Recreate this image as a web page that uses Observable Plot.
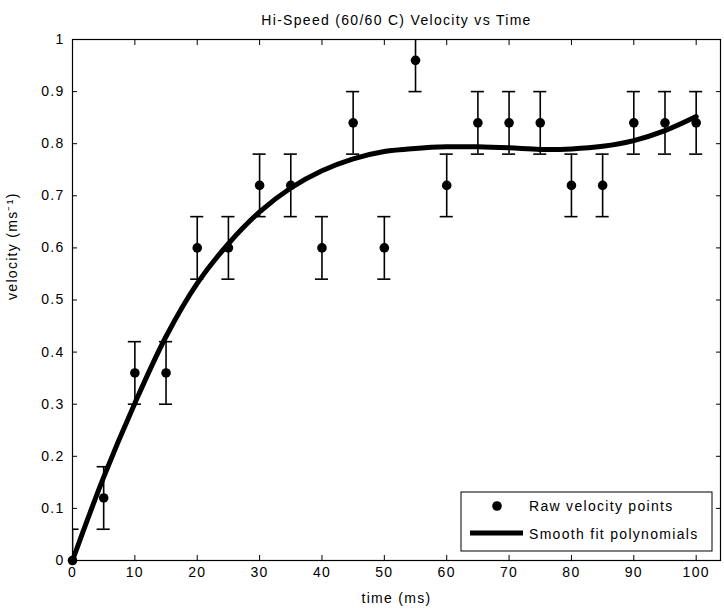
<!DOCTYPE html>
<html>
<head>
<meta charset="utf-8">
<script src="https://cdn.jsdelivr.net/npm/d3@7"></script>
<script src="https://cdn.jsdelivr.net/npm/@observablehq/plot@0.6"></script>
<style>
  html, body { margin: 0; padding: 0; background: #fff; }
  svg { display: block; }
  svg text { letter-spacing: 1.3px; }
</style>
</head>
<body>
<div id="chart"></div>
<script>
// Raw data points
const time = [0, 5, 10, 15, 20, 25, 30, 35, 40, 45, 50, 55, 60, 65, 70, 75, 80, 85, 90, 95, 100];
const velocity = [0, 0.12, 0.36, 0.36, 0.60, 0.60, 0.72, 0.72, 0.60, 0.84, 0.60, 0.96, 0.72, 0.84, 0.84, 0.84, 0.72, 0.72, 0.84, 0.84, 0.84];
const errorHalf = 0.06;

// Smooth fit polynomial
const fitTime = [0, 5, 10, 15, 20, 25, 30, 35, 40, 45, 50, 55, 60, 65, 70, 75, 80, 85, 90, 95, 100];
const fitVel = [0, 0.160, 0.302, 0.430, 0.532, 0.608, 0.669, 0.715, 0.748, 0.771, 0.785, 0.791, 0.794, 0.794, 0.792, 0.789, 0.790, 0.795, 0.806, 0.825, 0.852];

const xTicks = [0, 10, 20, 30, 40, 50, 60, 70, 80, 90, 100];
const yTicks = [0, 0.1, 0.2, 0.3, 0.4, 0.5, 0.6, 0.7, 0.8, 0.9, 1];

const titleText = "Hi-Speed (60/60 C) Velocity vs Time";
const xLabel = "time (ms)";
const yLabel = "velocity (ms⁻¹)";
const legendLabels = ["Raw velocity points", "Smooth fit polynomials"];

const raw = time.map((t, i) => ({t, v: velocity[i]}));
const fit = fitTime.map((t, i) => ({t, v: fitVel[i]}));
const capHalf = 1.05;

const W = 724, H = 611;
const mL = 72, mR = 4, mT = 39, mB = 51;
const font = "'Liberation Sans', Arial, sans-serif";
const fs = 14;

const plot = Plot.plot({
  width: W,
  height: H,
  marginLeft: mL,
  marginRight: mR,
  marginTop: mT,
  marginBottom: mB,
  style: {fontFamily: font, fontSize: fs + "px", color: "#000", background: "#fff"},
  x: {domain: [0, 103.9], label: null},
  y: {domain: [0, 1], label: null},
  marks: [
    Plot.axisX({ticks: xTicks, tickSize: -5, tickPadding: 12, tickFormat: d => String(d), fontSize: fs, strokeWidth: 1}),
    Plot.axisX({ticks: xTicks, anchor: "top", tickSize: -5, tickFormat: null, text: null, label: null}),
    Plot.axisY({ticks: yTicks, tickSize: -5, tickPadding: 13, tickFormat: d => String(+d.toFixed(1)), fontSize: fs}),
    Plot.axisY({ticks: yTicks, anchor: "right", tickSize: -5, text: null, label: null}),
    // error bars
    Plot.ruleX(raw, {x: "t", y1: d => d.v - errorHalf, y2: d => d.v + errorHalf, stroke: "#000", strokeWidth: 1.6, clip: "frame"}),
    Plot.ruleY(raw, {y: d => d.v - errorHalf, x1: d => d.t - capHalf, x2: d => d.t + capHalf, stroke: "#000", strokeWidth: 1.6, clip: "frame"}),
    Plot.ruleY(raw, {y: d => d.v + errorHalf, x1: d => d.t - capHalf, x2: d => d.t + capHalf, stroke: "#000", strokeWidth: 1.6, clip: "frame"}),
    // fit line
    Plot.line(fit, {x: "t", y: "v", curve: "catmull-rom", stroke: "#000", strokeWidth: 5}),
    // raw points
    Plot.dot(raw, {x: "t", y: "v", r: 4.8, fill: "#000", stroke: "none"}),
    Plot.frame({stroke: "#000", strokeWidth: 1.2}),
    // title and axis labels
    Plot.text([titleText], {frameAnchor: "top", dy: -24, text: d => d, fontSize: fs, fill: "#000"}),
    Plot.text([xLabel], {frameAnchor: "bottom", dy: 42, text: d => d, fontSize: fs, fill: "#000"}),
    Plot.text([yLabel], {frameAnchor: "left", dx: -60, rotate: -90, text: d => d, fontSize: fs, fill: "#000"})
  ]
});

document.getElementById("chart").appendChild(plot);

// Legend box (drawn in the plot's SVG)
const svg = d3.select(plot);
const lg = svg.append("g").attr("font-family", font).attr("font-size", fs).attr("text-anchor", "start");
const bx = 461, by = 492, bw = 251, bh = 59;
lg.append("rect").attr("x", bx).attr("y", by).attr("width", bw).attr("height", bh)
  .attr("fill", "#fff").attr("stroke", "#000").attr("stroke-width", 1);
lg.append("circle").attr("cx", 497).attr("cy", 506).attr("r", 4.8).attr("fill", "#000");
lg.append("text").attr("x", 529).attr("y", 511).attr("text-anchor", "start").text(legendLabels[0]);
lg.append("line").attr("x1", 470).attr("x2", 523).attr("y1", 533).attr("y2", 533)
  .attr("stroke", "#000").attr("stroke-width", 5);
lg.append("text").attr("x", 529).attr("y", 539).attr("text-anchor", "start").text(legendLabels[1]);
</script>
</body>
</html>
